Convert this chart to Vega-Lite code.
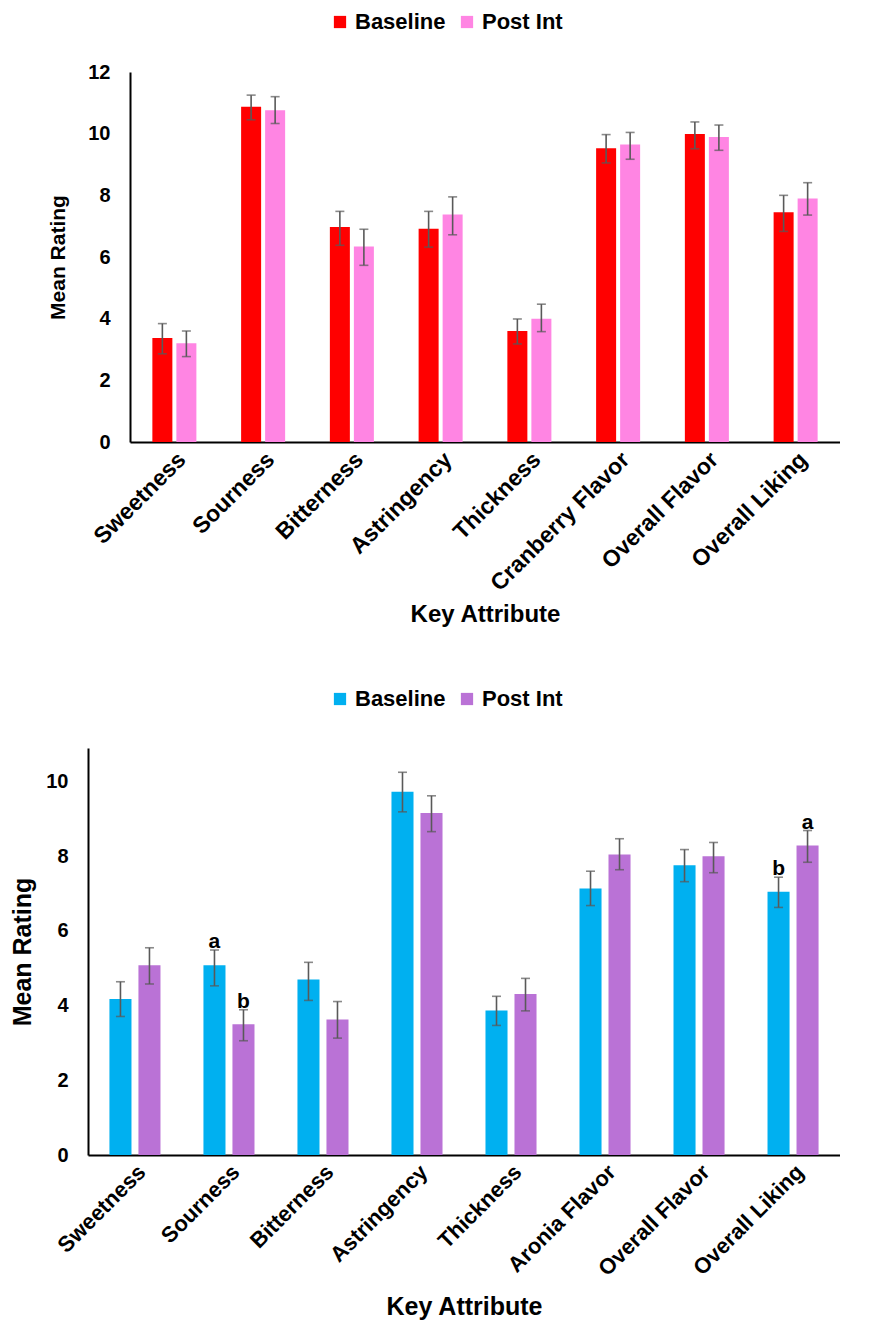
{
  "$schema": "https://vega.github.io/schema/vega-lite/v6.json",
  "background": "white",
  "padding": {"left": 3, "top": 11, "right": 0, "bottom": 0},
  "autosize": {"type": "pad"},
  "datasets": {
    "cranberry": [
      {"attr": "Sweetness", "group": "Baseline", "mean": 3.37, "lo": 2.86, "hi": 3.84},
      {"attr": "Sweetness", "group": "Post Int", "mean": 3.2, "lo": 2.77, "hi": 3.6},
      {"attr": "Sourness", "group": "Baseline", "mean": 10.87, "lo": 10.45, "hi": 11.25},
      {"attr": "Sourness", "group": "Post Int", "mean": 10.76, "lo": 10.33, "hi": 11.2},
      {"attr": "Bitterness", "group": "Baseline", "mean": 6.97, "lo": 6.38, "hi": 7.48},
      {"attr": "Bitterness", "group": "Post Int", "mean": 6.34, "lo": 5.73, "hi": 6.9},
      {"attr": "Astringency", "group": "Baseline", "mean": 6.92, "lo": 6.32, "hi": 7.48},
      {"attr": "Astringency", "group": "Post Int", "mean": 7.38, "lo": 6.72, "hi": 7.95},
      {"attr": "Thickness", "group": "Baseline", "mean": 3.6, "lo": 3.18, "hi": 3.99},
      {"attr": "Thickness", "group": "Post Int", "mean": 4.0, "lo": 3.58, "hi": 4.47},
      {"attr": "Cranberry Flavor", "group": "Baseline", "mean": 9.53, "lo": 9.05, "hi": 9.97},
      {"attr": "Cranberry Flavor", "group": "Post Int", "mean": 9.65, "lo": 9.17, "hi": 10.04},
      {"attr": "Overall Flavor", "group": "Baseline", "mean": 9.99, "lo": 9.51, "hi": 10.38},
      {"attr": "Overall Flavor", "group": "Post Int", "mean": 9.89, "lo": 9.46, "hi": 10.28},
      {"attr": "Overall Liking", "group": "Baseline", "mean": 7.45, "lo": 6.83, "hi": 8.0},
      {"attr": "Overall Liking", "group": "Post Int", "mean": 7.9, "lo": 7.36, "hi": 8.41}
    ],
    "aronia": [
      {"attr": "Sweetness", "group": "Baseline", "mean": 4.18, "lo": 3.71, "hi": 4.64, "letter": ""},
      {"attr": "Sweetness", "group": "Post Int", "mean": 5.08, "lo": 4.58, "hi": 5.55, "letter": ""},
      {"attr": "Sourness", "group": "Baseline", "mean": 5.08, "lo": 4.53, "hi": 5.49, "letter": "a"},
      {"attr": "Sourness", "group": "Post Int", "mean": 3.5, "lo": 3.06, "hi": 3.89, "letter": "b"},
      {"attr": "Bitterness", "group": "Baseline", "mean": 4.7, "lo": 4.14, "hi": 5.16, "letter": ""},
      {"attr": "Bitterness", "group": "Post Int", "mean": 3.63, "lo": 3.13, "hi": 4.11, "letter": ""},
      {"attr": "Astringency", "group": "Baseline", "mean": 9.73, "lo": 9.19, "hi": 10.25, "letter": ""},
      {"attr": "Astringency", "group": "Post Int", "mean": 9.16, "lo": 8.66, "hi": 9.62, "letter": ""},
      {"attr": "Thickness", "group": "Baseline", "mean": 3.87, "lo": 3.47, "hi": 4.25, "letter": ""},
      {"attr": "Thickness", "group": "Post Int", "mean": 4.31, "lo": 3.86, "hi": 4.73, "letter": ""},
      {"attr": "Aronia Flavor", "group": "Baseline", "mean": 7.14, "lo": 6.68, "hi": 7.6, "letter": ""},
      {"attr": "Aronia Flavor", "group": "Post Int", "mean": 8.05, "lo": 7.64, "hi": 8.47, "letter": ""},
      {"attr": "Overall Flavor", "group": "Baseline", "mean": 7.76, "lo": 7.32, "hi": 8.18, "letter": ""},
      {"attr": "Overall Flavor", "group": "Post Int", "mean": 8.0, "lo": 7.56, "hi": 8.37, "letter": ""},
      {"attr": "Overall Liking", "group": "Baseline", "mean": 7.05, "lo": 6.63, "hi": 7.44, "letter": "b"},
      {"attr": "Overall Liking", "group": "Post Int", "mean": 8.29, "lo": 7.84, "hi": 8.69, "letter": "a"}
    ]
  },
  "vconcat": [
    {
      "hconcat": [
        {
          "width": 41,
          "height": 10,
          "data": {"values": [{"blank": 0}]},
          "mark": {"type": "point", "opacity": 0}
        },
        {
          "width": 710,
          "height": 370,
          "data": {"name": "cranberry"},
          "encoding": {
            "x": {
              "field": "attr",
              "type": "nominal",
              "sort": ["Sweetness", "Sourness", "Bitterness", "Astringency", "Thickness", "Cranberry Flavor", "Overall Flavor", "Overall Liking"],
              "scale": {"paddingInner": 0.504, "paddingOuter": 0.252},
              "axis": {"labelAngle": -45, "labelFontSize": 23, "labelPadding": 6, "labelLimit": 400, "titlePadding": 7, "titleFontSize": 24},
              "title": "Key Attribute"
            },
            "xOffset": {
              "field": "group",
              "type": "nominal",
              "sort": ["Baseline", "Post Int"],
              "scale": {"paddingInner": 0.167}
            }
          },
          "layer": [
            {
              "mark": {"type": "bar"},
              "encoding": {
                "y": {
                  "field": "mean",
                  "type": "quantitative",
                  "title": "Mean Rating",
                  "scale": {"domain": [0, 12], "nice": false},
                  "axis": {"values": [0, 2, 4, 6, 8, 10, 12], "labelFontSize": 20, "labelPadding": 20, "titleFontSize": 21, "titlePadding": 19}
                },
                "color": {
                  "field": "group",
                  "type": "nominal",
                  "sort": ["Baseline", "Post Int"],
                  "scale": {"range": ["#FF0000", "#FF85E3"]},
                  "legend": {"orient": "none", "legendX": 199, "legendY": -61, "direction": "horizontal", "title": null}
                }
              }
            },
            {
              "mark": {"type": "rule", "color": "#595959", "strokeWidth": 1.6},
              "encoding": {
                "y": {"field": "lo", "type": "quantitative", "title": "Mean Rating"},
                "y2": {"field": "hi"}
              }
            },
            {
              "mark": {"type": "tick", "color": "#595959", "thickness": 1.6, "size": 9},
              "encoding": {"y": {"field": "hi", "type": "quantitative", "title": "Mean Rating"}}
            },
            {
              "mark": {"type": "tick", "color": "#595959", "thickness": 1.6, "size": 9},
              "encoding": {"y": {"field": "lo", "type": "quantitative", "title": "Mean Rating"}}
            }
          ]
        }
      ],
      "spacing": 0,
      "resolve": {"legend": {"color": "independent"}, "scale": {"color": "independent"}}
    },
    {
      "hconcat": [
        {
          "width": 1,
          "height": 10,
          "data": {"values": [{"blank": 0}]},
          "mark": {"type": "point", "opacity": 0}
        },
        {
          "width": 752,
          "height": 407,
          "data": {"name": "aronia"},
          "encoding": {
            "x": {
              "field": "attr",
              "type": "nominal",
              "sort": ["Sweetness", "Sourness", "Bitterness", "Astringency", "Thickness", "Aronia Flavor", "Overall Flavor", "Overall Liking"],
              "scale": {"paddingInner": 0.457, "paddingOuter": 0.228},
              "axis": {"labelAngle": -45, "labelFontSize": 22, "labelPadding": 6, "labelLimit": 400, "titlePadding": 15, "titleFontSize": 25},
              "title": "Key Attribute"
            },
            "xOffset": {
              "field": "group",
              "type": "nominal",
              "sort": ["Baseline", "Post Int"],
              "scale": {"paddingInner": 0.24}
            }
          },
          "layer": [
            {
              "mark": {"type": "bar"},
              "encoding": {
                "y": {
                  "field": "mean",
                  "type": "quantitative",
                  "title": "Mean Rating",
                  "scale": {"domain": [0, 10.9], "nice": false},
                  "axis": {"values": [0, 2, 4, 6, 8, 10], "labelFontSize": 20, "labelPadding": 20, "titleFontSize": 25, "titlePadding": 10}
                },
                "color": {
                  "field": "group",
                  "type": "nominal",
                  "sort": ["Baseline", "Post Int"],
                  "scale": {"range": ["#00B0F0", "#BA72D6"]},
                  "legend": {"orient": "none", "legendX": 241, "legendY": -60, "direction": "horizontal", "title": null}
                }
              }
            },
            {
              "mark": {"type": "rule", "color": "#595959", "strokeWidth": 1.6},
              "encoding": {
                "y": {"field": "lo", "type": "quantitative", "title": "Mean Rating"},
                "y2": {"field": "hi"}
              }
            },
            {
              "mark": {"type": "tick", "color": "#595959", "thickness": 1.6, "size": 9},
              "encoding": {"y": {"field": "hi", "type": "quantitative", "title": "Mean Rating"}}
            },
            {
              "mark": {"type": "tick", "color": "#595959", "thickness": 1.6, "size": 9},
              "encoding": {"y": {"field": "lo", "type": "quantitative", "title": "Mean Rating"}}
            },
            {
              "transform": [{"filter": "datum.letter != ''"}],
              "mark": {"type": "text", "fontSize": 21, "fontWeight": "bold", "baseline": "alphabetic", "dy": -2, "color": "#000000"},
              "encoding": {
                "y": {"field": "hi", "type": "quantitative", "title": "Mean Rating"},
                "text": {"field": "letter"}
              }
            }
          ]
        }
      ],
      "spacing": 0,
      "resolve": {"legend": {"color": "independent"}, "scale": {"color": "independent"}}
    }
  ],
  "spacing": 61,
  "resolve": {
    "scale": {"x": "independent", "y": "independent", "xOffset": "independent", "color": "independent"},
    "axis": {"x": "independent", "y": "independent"},
    "legend": {"color": "independent"}
  },
  "config": {
    "font": "Liberation Sans",
    "view": {"stroke": null},
    "axis": {
      "domainColor": "#000000",
      "domainWidth": 2,
      "ticks": false,
      "grid": false,
      "labelColor": "#000000",
      "labelFont": "Liberation Sans",
      "labelFontWeight": "bold",
      "titleColor": "#000000",
      "titleFont": "Liberation Sans",
      "titleFontWeight": "bold"
    },
    "legend": {
      "symbolType": "square",
      "symbolSize": 150,
      "symbolStrokeWidth": 0,
      "labelFontSize": 22,
      "labelFontWeight": "bold",
      "labelColor": "#000000",
      "labelFont": "Liberation Sans",
      "labelOffset": 4,
      "columnPadding": 10
    }
  }
}
